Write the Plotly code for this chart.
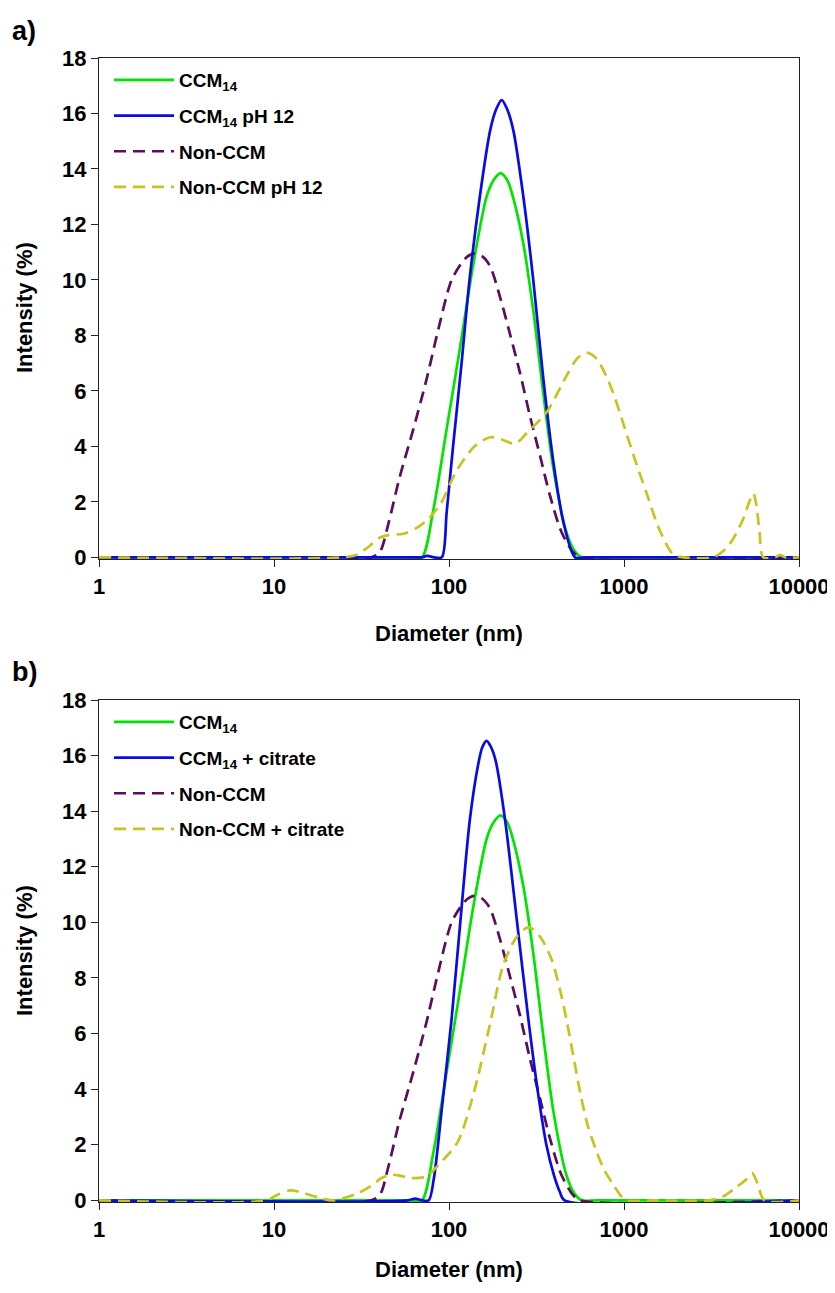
import plotly.graph_objects as go

# ---------------- data ----------------
xtick_vals = [1, 10, 100, 1000, 10000]
xtick_text = ["1", "10", "100", "1000", "10000"]
ytick_vals = [0, 2, 4, 6, 8, 10, 12, 14, 16, 18]

# CCM14 (same sample in both panels)
ccm14_d = [1, 60, 70, 81, 97, 116, 138, 164, 180, 197, 215, 233, 266, 303, 346, 395, 468, 520, 573, 700, 10000]
ccm14_i = [0, 0, 0, 1.64, 4.63, 7.62, 10.6, 13.0, 13.6, 13.85, 13.6, 12.95, 11.3, 8.9, 5.9, 3.2, 0.92, 0.25, 0, 0, 0]

# Non-CCM (same sample in both panels)
nonccm_d = [1, 36, 40.3, 45, 52, 62.6, 74.5, 86.9, 103.5, 121, 130, 139.5, 155, 171.6, 195, 222, 254, 290, 331, 377, 438, 510, 560, 10000]
nonccm_i = [0, 0, 0.2, 1.2, 2.84, 4.63, 6.43, 8.22, 10.0, 10.7, 10.88, 10.95, 10.85, 10.5, 9.42, 8.1, 6.67, 5.1, 3.67, 2.24, 0.93, 0.2, 0, 0]

# panel a: CCM14 pH 12
ccm14_ph12_d = [1, 60, 70, 75, 82, 91, 97, 105.6, 118, 131, 150, 172, 186, 200, 215, 233, 266, 303, 346, 395, 450, 525, 600, 10000]
ccm14_ph12_i = [0, 0, 0, 0.05, 0, 0, 1.64, 4.03, 7.0, 10.0, 13.0, 15.4, 16.15, 16.48, 16.15, 15.4, 13.0, 10.0, 6.43, 3.43, 1.28, 0, 0, 0]

# panel a: Non-CCM pH 12
nonccm_ph12_d = [1, 24.7, 30, 35, 40, 45, 55, 65, 75, 89, 110, 140, 172, 200, 238, 280, 361, 470, 540, 612, 700, 796, 870, 948,
                 1130, 1348, 1606, 1914, 2200, 3230, 3800, 4217, 4810, 5200, 5480, 5700, 5950, 6250, 7300, 7800, 8400, 10000]
nonccm_ph12_i = [0, 0, 0.1, 0.4, 0.7, 0.8, 0.85, 1.05, 1.35, 1.9, 3.1, 4.0, 4.33, 4.25, 4.09, 4.5, 5.23, 6.55, 7.17, 7.38, 7.15, 6.5, 5.9, 5.2,
                 3.7, 2.3, 0.95, 0.1, 0, 0, 0.3, 0.68, 1.4, 2.0, 2.3, 1.9, 0.9, 0, 0, 0.08, 0, 0]

# panel b: CCM14 + citrate
ccm14_cit_d = [1, 58, 64, 70, 76.6, 82, 91, 103.5, 116, 131.6, 147, 155, 164, 174, 185, 209, 245, 284, 322, 360, 398, 430, 457, 10000]
ccm14_cit_i = [0, 0, 0.06, 0, 0, 0.8, 3.3, 6.53, 10.0, 13.7, 15.7, 16.3, 16.53, 16.3, 15.8, 13.7, 10.0, 6.53, 3.9, 2.0, 0.9, 0.3, 0, 0]

# panel b: Non-CCM + citrate
nonccm_cit_d = [1, 9, 10.5, 12.4, 15, 18, 21.7, 30, 36.7, 41, 46.9, 53, 60, 74, 91, 112.6, 139, 171, 204, 245, 286, 330,
                384, 430, 469, 520, 565, 620, 697, 770, 860, 950, 1024, 1500, 3020, 3700, 4310, 5000, 5400, 5800, 6340, 10000]
nonccm_cit_i = [0, 0, 0.2, 0.36, 0.25, 0.1, 0, 0.25, 0.56, 0.8, 0.92, 0.88, 0.8, 0.86, 1.4, 2.12, 3.9, 6.3, 8.46, 9.5, 9.83, 9.5,
                8.7, 7.6, 6.5, 5.0, 3.8, 2.7, 1.76, 1.1, 0.6, 0.2, 0, 0, 0, 0.15, 0.44, 0.75, 0.98, 0.6, 0, 0]

GREEN = "#00E400"
BLUE = "#0A0AE6"
PURPLE = "#5B0D5E"
YELLOW = "#C8C41E"
DASH = "12px,7px"
FONT = "Liberation Sans, Arial, sans-serif"

fig = go.Figure()


def add(d, i, name, color, dash, xa, ya, leg, rank):
    fig.add_trace(go.Scatter(
        x=d, y=i, name=name, mode="lines",
        line=dict(color=color, width=2.7, dash=dash, shape="spline", smoothing=0.8),
        xaxis=xa, yaxis=ya, legend=leg, legendrank=rank, legendgroup=leg + name,
        hoverinfo="skip",
    ))


# panel a (draw order: green, purple, blue, yellow)
add(ccm14_d, ccm14_i, "CCM<sub>14</sub>", GREEN, "solid", "x", "y", "legend", 1)
add(nonccm_d, nonccm_i, "Non-CCM", PURPLE, DASH, "x", "y", "legend", 3)
add(ccm14_ph12_d, ccm14_ph12_i, "CCM<sub>14</sub> pH 12", BLUE, "solid", "x", "y", "legend", 2)
add(nonccm_ph12_d, nonccm_ph12_i, "Non-CCM pH 12", YELLOW, DASH, "x", "y", "legend", 4)

# panel b
add(ccm14_d, ccm14_i, "CCM<sub>14</sub>", GREEN, "solid", "x2", "y2", "legend2", 1)
add(nonccm_d, nonccm_i, "Non-CCM", PURPLE, DASH, "x2", "y2", "legend2", 3)
add(ccm14_cit_d, ccm14_cit_i, "CCM<sub>14</sub> + citrate", BLUE, "solid", "x2", "y2", "legend2", 2)
add(nonccm_cit_d, nonccm_cit_i, "Non-CCM + citrate", YELLOW, DASH, "x2", "y2", "legend2", 4)

# The page body has an 8px margin, so the figure is drawn 8px in from the
# top-left corner; page coordinates are converted to figure coordinates.
# The height leaves room for the bottom body margin so the page does not scroll.
OFF = 8
W, H = 835 - OFF, 1293 - 2 * OFF


def px(x):
    return (x - OFF) / W


def py(y):
    return 1 - (y - OFF) / H


xdom = [px(99), px(799)]
ydom_a = [py(559), py(58)]
ydom_b = [py(1202), py(700)]

tickfont = dict(family=FONT, size=22, color="black", weight="bold")


def xax(anchor):
    return dict(type="log", range=[0, 4], domain=xdom, anchor=anchor, automargin=False,
                tickmode="array", tickvals=xtick_vals, ticktext=xtick_text,
                ticks="outside", ticklen=7, tickwidth=1.2, tickcolor="#222",
                showline=True, linecolor="#222", linewidth=1.4, mirror=True,
                showgrid=False, zeroline=False, tickfont=tickfont)


def yax(anchor, dom):
    return dict(range=[-0.06, 18], domain=dom, anchor=anchor, automargin=False,
                tickmode="array", tickvals=ytick_vals,
                ticks="outside", ticklen=7, tickwidth=1.2, tickcolor="#222",
                showline=True, linecolor="#222", linewidth=1.4, mirror=True,
                showgrid=False, zeroline=False, tickfont=tickfont)


legfont = dict(family=FONT, size=19, color="black", weight="bold")


def leg(ytop):
    return dict(x=px(109), y=py(ytop), xanchor="left", yanchor="top",
                bgcolor="rgba(0,0,0,0)", font=legfont, traceorder="grouped",
                tracegroupgap=8, itemwidth=60)


titlefont = dict(family=FONT, size=22, color="black", weight="bold")
annots = []
for ytitle, xtitle, letter_y, letter in [(308, 634, 31, "a)"), (951, 1269, 672, "b)")]:
    annots.append(dict(text="Diameter (nm)", x=px(449), y=py(xtitle), xref="paper", yref="paper",
                       showarrow=False, xanchor="center", yanchor="middle", font=titlefont))
    annots.append(dict(text="Intensity (%)", x=px(24), y=py(ytitle), xref="paper", yref="paper",
                       showarrow=False, xanchor="center", yanchor="middle", textangle=-90, font=titlefont))
    annots.append(dict(text=letter, x=px(10), y=py(letter_y), xref="paper", yref="paper",
                       showarrow=False, xanchor="left", yanchor="middle",
                       font=dict(family=FONT, size=27, color="black", weight="bold")))

fig.update_layout(
    width=W, height=H,
    margin=dict(l=0, r=0, t=0, b=0, pad=0, autoexpand=False),
    paper_bgcolor="white", plot_bgcolor="white",
    xaxis=xax("y"), yaxis=yax("x", ydom_a),
    xaxis2=xax("y2"), yaxis2=yax("x2", ydom_b),
    legend=leg(61), legend2=leg(703),
    annotations=annots,
    showlegend=True,
)

fig.write_html("out.html")
